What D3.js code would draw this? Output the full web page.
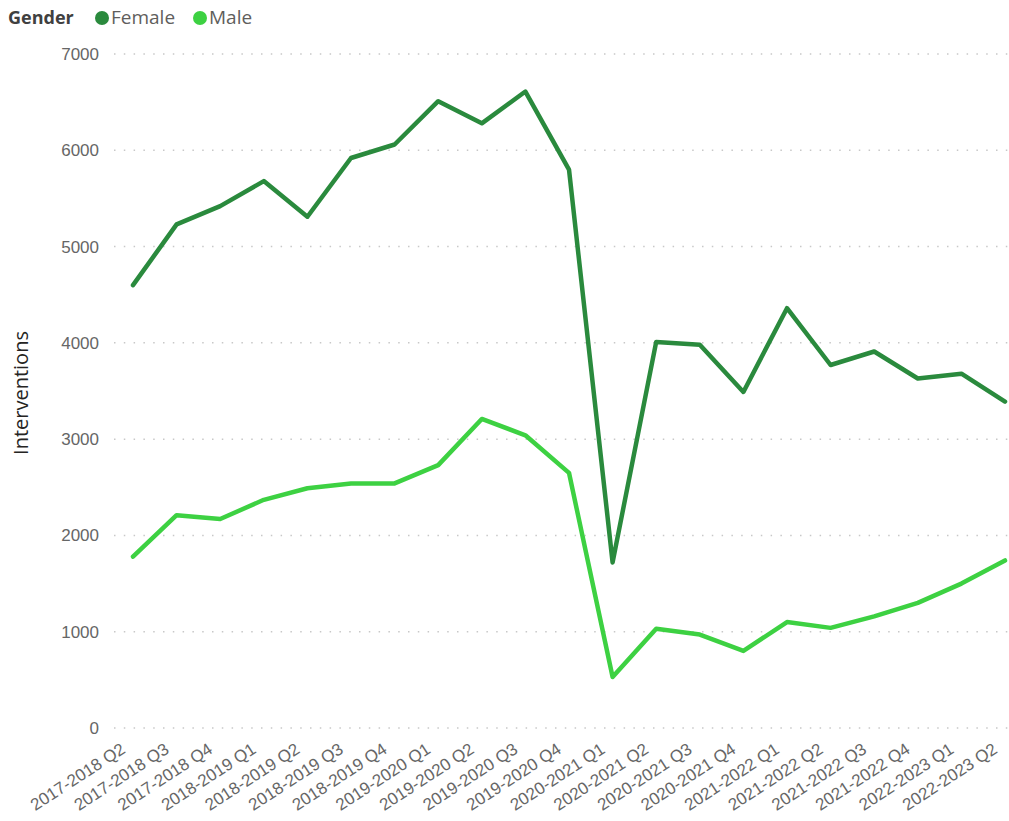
<!DOCTYPE html>
<html lang="en">
  <head>
    <meta charset="UTF-8" />
    <title>Interventions by Gender</title>
    <script src="https://d3js.org/d3.v7.min.js"></script>
    <style>
      body { margin: 0; background: #fff; }
      svg { font-family: "Segoe UI", "Open Sans", "Noto Sans", sans-serif; }
      .tick text { fill: #666666; font-size: 17px; }
      .grid line { stroke: #C8C8C8; stroke-width: 1.5; stroke-dasharray: 1.5 8.3; }
    </style>
  </head>
  <body>
    <svg width="1009" height="821"></svg>
<script>
var quarters = ["2017-2018 Q2", "2017-2018 Q3", "2017-2018 Q4",
  "2018-2019 Q1", "2018-2019 Q2", "2018-2019 Q3", "2018-2019 Q4",
  "2019-2020 Q1", "2019-2020 Q2", "2019-2020 Q3", "2019-2020 Q4",
  "2020-2021 Q1", "2020-2021 Q2", "2020-2021 Q3", "2020-2021 Q4",
  "2021-2022 Q1", "2021-2022 Q2", "2021-2022 Q3", "2021-2022 Q4",
  "2022-2023 Q1", "2022-2023 Q2"];

var female = [4600, 5230, 5420, 5680, 5310, 5920, 6060, 6510, 6280, 6610, 5800,
  1720, 4010, 3980, 3490, 4360, 3770, 3910, 3630, 3680, 3390];

var male = [1780, 2210, 2170, 2370, 2490, 2540, 2540, 2730, 3210, 3040, 2650,
  530, 1030, 970, 800, 1100, 1040, 1160, 1300, 1500, 1740];

var yTicks = [0, 1000, 2000, 3000, 4000, 5000, 6000, 7000];

var series = [
  { name: "Female", values: female, color: "#2A8A3D" },
  { name: "Male", values: male, color: "#3DD142" }
];

var svg = d3.select("svg");

var x = d3.scalePoint().domain(quarters).range([133, 1005]);
var y = d3.scaleLinear().domain([0, 7000]).range([728, 54]);

// grid
svg.append("g")
   .attr("class", "grid")
   .selectAll("line")
   .data(yTicks)
   .enter().append("line")
   .attr("x1", 114)
   .attr("x2", 1009)
   .attr("y1", function(d) { return y(d); })
   .attr("y2", function(d) { return y(d); });

// y axis
var yAxis = svg.append("g")
   .attr("transform", "translate(99,0)")
   .call(d3.axisLeft(y).tickValues(yTicks).tickFormat(d3.format("d")).tickSize(0).tickPadding(0));
yAxis.select(".domain").remove();

svg.append("text")
   .attr("transform", "translate(28,393) rotate(-90)")
   .attr("text-anchor", "middle")
   .attr("fill", "#252423")
   .attr("font-size", "20px")
   .text("Interventions");

// x axis
var xAxis = svg.append("g")
   .attr("transform", "translate(0,737)")
   .call(d3.axisBottom(x).tickSize(0).tickPadding(0));
xAxis.select(".domain").remove();
xAxis.selectAll("text")
   .attr("text-anchor", "end")
   .attr("dy", "0")
   .attr("transform", "translate(-7,15) rotate(-33)");

// lines
var line = d3.line()
   .x(function(d, i) { return x(quarters[i]); })
   .y(function(d) { return y(d); });

svg.selectAll(".series")
   .data(series)
   .enter().append("path")
   .attr("class", "series")
   .attr("fill", "none")
   .attr("stroke", function(d) { return d.color; })
   .attr("stroke-width", 4.5)
   .attr("stroke-linejoin", "round")
   .attr("stroke-linecap", "round")
   .attr("d", function(d) { return line(d.values); });

// legend
var legend = svg.append("g").attr("transform", "translate(8,18)");
legend.append("text")
   .attr("x", 0).attr("y", 6)
   .attr("font-size", "18px")
   .attr("font-weight", "bold")
   .attr("fill", "#404040")
   .text("Gender");

var items = legend.selectAll(".item")
   .data(series)
   .enter().append("g")
   .attr("class", "item")
   .attr("transform", function(d, i) { return "translate(" + (i === 0 ? 94 : 192) + ",0)"; });
items.append("circle")
   .attr("r", 7)
   .attr("cy", 0)
   .attr("fill", function(d) { return d.color; });
items.append("text")
   .attr("x", 9).attr("y", 6)
   .attr("font-size", "19px")
   .attr("fill", "#605E5C")
   .text(function(d) { return d.name; });
</script>
  </body>
</html>
